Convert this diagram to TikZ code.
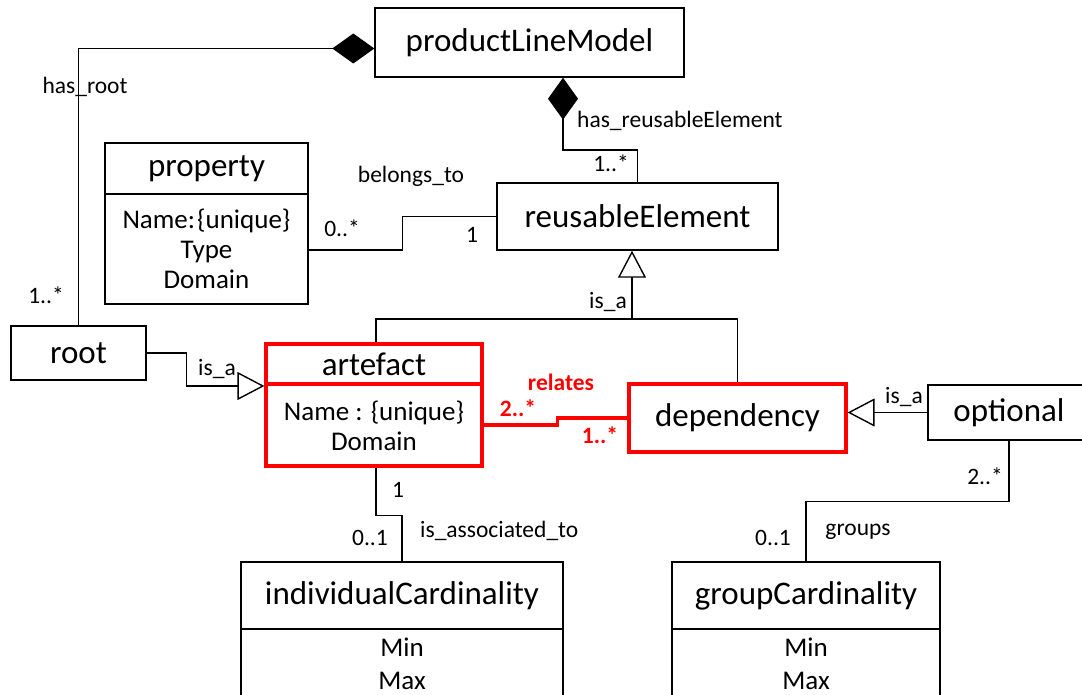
\documentclass[tikz,border=0pt]{standalone}
\usepackage{fontspec}
\setmainfont{Carlito}
\usetikzlibrary{arrows.meta, calc}

\begin{document}
\begin{tikzpicture}[x=1pt, y=-1pt,
  box/.style={draw, line width=1.4pt, inner sep=0pt},
  redbox/.style={draw=red, line width=3.2pt, inner sep=0pt},
  cname/.style={font=\fontsize{33}{39}\selectfont},
  attr/.style={font=\fontsize{27}{30}\selectfont, align=center},
  lbl/.style={font=\fontsize{23.5}{26}\selectfont, inner sep=1pt},
  redlbl/.style={lbl, text=red, font=\fontsize{23.5}{26}\selectfont\bfseries},
  conn/.style={line width=1.4pt},
  redline/.style={draw=red, line width=3.2pt},
  compo/.style={conn, {-Diamond[length=42pt, width=30pt]}},
  isa/.style={conn, -{Triangle[open, length=27pt, width=28pt]}}]
\useasboundingbox (0,0) rectangle (1082,695);
\clip (0,0) rectangle (1082,695);

% classes
\node[box, cname, minimum width=309, minimum height=69] (plm) at (529.5,42.5) {productLineModel};
\node[box, cname, minimum width=281, minimum height=67] (reusable) at (637.5,216.5) {reusableElement};
\node[box, minimum width=203, minimum height=161] (property) at (206.5,223.5) {};
\node[cname] (propTitle) at (206.5,168.5) {property};
\node[attr] (propAttr) at (206.5,249) {Name:\kern2pt\{unique\}\\Type\\Domain};
\draw[conn] (property.west |- 0,194) -- (property.east |- 0,194);
\node[box, cname, minimum width=135, minimum height=54] (root) at (78.5,353) {root};
\node[redbox, minimum width=216, minimum height=122] (artefact) at (374,405) {};
\node[cname] (artTitle) at (374,364) {artefact};
\node[attr] (artAttr) at (374,426) {Name : \{unique\}\\Domain};
\draw[redline] (artefact.west |- 0,384) -- (artefact.east |- 0,384);
\node[redbox, cname, minimum width=217, minimum height=68] (dependency) at (737.5,418) {dependency};
\node[box, cname, minimum width=162, minimum height=55] (optional) at (1009,412.5) {optional};
\node[box, minimum width=322, minimum height=148] (indCard) at (402,636) {};
\node[cname] (indTitle) at (402,596) {individualCardinality};
\node[attr, font=\fontsize{27}{33}\selectfont] (indAttr) at (402,664) {Min\\Max};
\draw[conn] (indCard.west |- 0,629) -- (indCard.east |- 0,629);
\node[box, minimum width=268, minimum height=148] (grpCard) at (806,636) {};
\node[cname] (grpTitle) at (806,596) {groupCardinality};
\node[attr, font=\fontsize{27}{33}\selectfont] (grpAttr) at (806,664) {Min\\Max};
\draw[conn] (grpCard.west |- 0,629) -- (grpCard.east |- 0,629);

% connectors
\draw[compo] (root.north) |- ([yshift=-6pt]plm.west);
\coordinate (hreBend) at (563,150);
\draw[compo] (reusable.north) |- (hreBend) -- (hreBend |- plm.south);
\draw[conn] ([yshift=-26.5pt]property.east) -- ++(94,0) |- (reusable.west);
\coordinate (isaJoin) at (632,319);
\draw[isa] (isaJoin) -- (isaJoin |- reusable.south);
\draw[conn] ([xshift=2pt]artefact.north) |- (isaJoin) -| (dependency.north);
\draw[isa] (root.east) -- ++(40,0) |- ([yshift=19pt]artefact.west);
\draw[redline] ([yshift=-20pt]artefact.east) -- ++(74,0) |- (dependency.west);
\draw[isa] (optional.west) -- (optional.west -| dependency.east);
\draw[conn] ([xshift=2pt]artefact.south) -- ++(0,48) -| (indCard.north);
\draw[conn] (optional.south) -- ++(0,61) -| (grpCard.north);

% labels
\node[lbl] (lHasRoot) at (85,87) {has\_root};
\node[lbl] (mRoot) at (46,295) {1..*};
\node[lbl] (lBelongs) at (411,176) {belongs\_to};
\node[lbl] (mProp) at (342,228) {0..*};
\node[lbl] (mReuseOne) at (472,235) {1};
\node[lbl, anchor=west] (lHasReuse) at (576,121) {has\_reusableElement};
\node[lbl] (mReuse) at (611,163) {1..*};
\node[lbl] (lIsaTop) at (608,302) {is\_a};
\node[lbl] (lIsaRoot) at (217,369) {is\_a};
\node[redlbl] (lRelates) at (561,382) {relates};
\node[redlbl] (mArt) at (518,408) {2..*};
\node[redlbl] (mDep) at (600,435) {1..*};
\node[lbl] (lIsaOpt) at (904,397) {is\_a};
\node[lbl] (mArtInd) at (398,490) {1};
\node[lbl] (mInd) at (370,538) {0..1};
\node[lbl, anchor=west] (lAssoc) at (419,531) {is\_associated\_to};
\node[lbl] (mOpt) at (985,476) {2..*};
\node[lbl] (mGrp) at (773,538) {0..1};
\node[lbl] (lGroups) at (858,532) {groups};
\end{tikzpicture}
\end{document}
